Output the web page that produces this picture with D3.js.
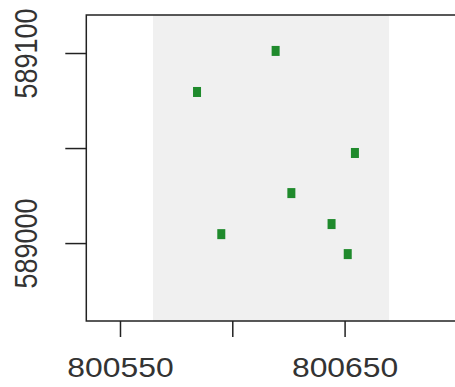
<!DOCTYPE html>
<html>
<head>
<meta charset="utf-8">
<script src="https://cdn.jsdelivr.net/npm/d3@7"></script>
<style>
  html, body { margin: 0; padding: 0; background: #fff; }
  svg { display: block; }
</style>
</head>
<body>
<svg id="chart" width="455" height="387"></svg>
<script>
// Site coordinates (easting / northing)
const eastings  = [800619.3, 800584.3, 800654.6, 800626.3, 800595.1, 800644.2, 800651.4];
const northings = [589101.1, 589079.5, 589047.4, 589026.3, 589004.7, 589010.0, 588994.2];

// Extent of the shaded study area
const areaX = [800564.7, 800669.8];

// Axis ticks (blank labels are skipped to avoid overlap)
const xTicks = [800550, 800600, 800650];
const xTickLabels = ["800550", "", "800650"];
const yTicks = [589000, 589050, 589100];
const yTickLabels = ["589000", "", "589100"];

const svg = d3.select("#chart");
const plotLeft = 86.3, plotTop = 15, plotBottom = 321;

const x = d3.scaleLinear().domain([800535, 800700]).range([plotLeft, plotLeft + 165 * 2.246]);
const y = d3.scaleLinear().domain([588959, 589120]).range([plotBottom, plotTop]);

const textStretch = "scale(1.18,1)";

// Shaded area
svg.append("rect")
  .attr("x", x(areaX[0]))
  .attr("y", plotTop)
  .attr("width", x(areaX[1]) - x(areaX[0]))
  .attr("height", plotBottom - plotTop)
  .attr("fill", "#f0f0f0");

// Points
svg.append("g").selectAll("rect")
  .data(eastings.map((e, i) => [e, northings[i]]))
  .join("rect")
  .attr("x", d => x(d[0]) - 4)
  .attr("y", d => y(d[1]) - 5)
  .attr("width", 8)
  .attr("height", 10)
  .attr("fill", "#1f8a2c");

// Plot frame
svg.append("rect")
  .attr("x", plotLeft)
  .attr("y", plotTop)
  .attr("width", x.range()[1] - plotLeft)
  .attr("height", plotBottom - plotTop)
  .attr("fill", "none")
  .attr("stroke", "#222")
  .attr("stroke-width", 1.5);

// X axis
const xAxis = svg.append("g")
  .attr("transform", `translate(0,${plotBottom})`)
  .call(d3.axisBottom(x).tickValues(xTicks).tickSize(16)
    .tickFormat((d, i) => xTickLabels[i]));
xAxis.select(".domain").remove();
xAxis.selectAll(".tick line").attr("stroke", "#222").attr("stroke-width", 1.5);
xAxis.selectAll(".tick text")
  .attr("y", 56).attr("dy", 0)
  .attr("transform", textStretch)
  .attr("font-family", "Liberation Sans, Arial, sans-serif")
  .attr("font-size", 27)
  .attr("fill", "#333");

// Y axis
const yAxis = svg.append("g")
  .attr("transform", `translate(${plotLeft},0)`)
  .call(d3.axisLeft(y).tickValues(yTicks).tickSize(21)
    .tickFormat((d, i) => yTickLabels[i]));
yAxis.select(".domain").remove();
yAxis.selectAll(".tick line").attr("stroke", "#222").attr("stroke-width", 1.5);
yAxis.selectAll(".tick text")
  .attr("x", 0).attr("y", 0).attr("dy", 0)
  .attr("text-anchor", "middle")
  .attr("transform", `translate(-49,0) ${textStretch} rotate(-90)`)
  .attr("font-family", "Liberation Sans, Arial, sans-serif")
  .attr("font-size", 27)
  .attr("fill", "#333");
</script>
</body>
</html>
